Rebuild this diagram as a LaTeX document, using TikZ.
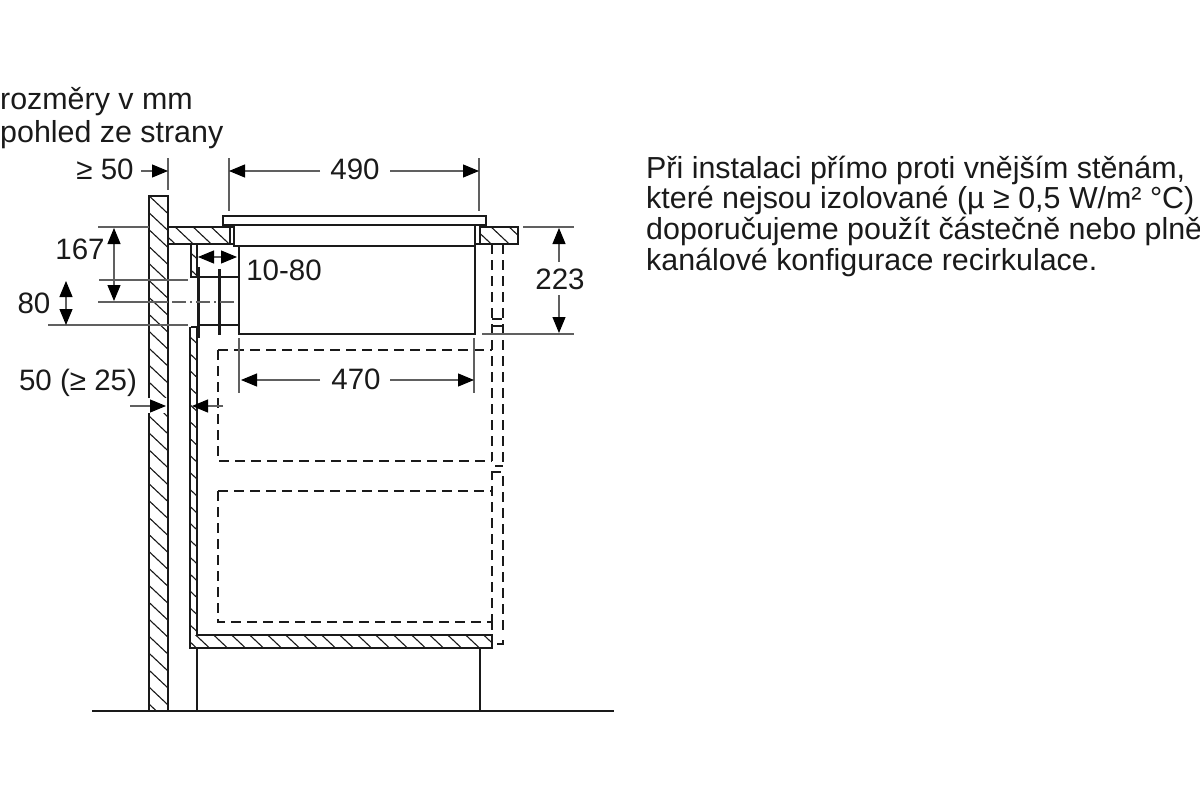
\documentclass[tikz,border=0pt]{standalone}
\usepackage{fontspec}
\setmainfont{Liberation Sans}
\usetikzlibrary{arrows.meta}
\definecolor{ink}{HTML}{1A1A1A}
\definecolor{dimgray}{HTML}{606060}
\newcommand{\hatchbox}[5]{%
  \begin{scope}
    \clip (#1,#2) rectangle (#3,#4);
    \foreach \c in {-800,-782,...,1200}
      \draw[hatchline] (\c+#5,0) -- (\c+#5+850,800);
  \end{scope}}
\tikzset{
  x=1pt,y=-1pt,
  outline/.style={draw=ink,line width=2pt},
  hatchline/.style={draw=ink,line width=1.1pt},
  thin line/.style={draw=dimgray,line width=1.1pt},
  dashline/.style={draw=ink,line width=2pt,dash pattern=on 10pt off 6pt},
  dimline/.style={draw=dimgray,line width=1.1pt},
  dimboth/.style={dimline,{Triangle[length=16pt,width=13pt,color=black]}-{Triangle[length=16pt,width=13pt,color=black]}},
  dimend/.style={dimline,-{Triangle[length=16pt,width=13pt,color=black]}},
  label/.style={inner sep=0pt,text=ink,font=\fontsize{29.5}{34}\selectfont},
  para/.style={inner sep=0pt,text=ink,anchor=base west,font=\fontsize{30.4}{34}\selectfont},
}
\begin{document}
\begin{tikzpicture}
\useasboundingbox (0,0) rectangle (1200,800);
\fill[white] (0,0) rectangle (1200,800);

% hatching
\hatchbox{149}{196}{168}{710}{3}
\hatchbox{168}{227}{230}{244}{-4}
\hatchbox{480}{227}{518}{244}{6}
\hatchbox{191}{244}{197}{277}{2}
\hatchbox{190}{327}{197}{648}{2}
\hatchbox{190}{635}{492}{648}{-3}
\fill[white] (140,398) rectangle (167.2,413);

% wall
\draw[outline] (149,398) -- (149,196) -- (168,196) -- (168,710);
\draw[outline] (149,413) -- (149,710);
% worktop left
\draw[outline] (168,227) -- (230,227) -- (230,244) -- (168,244);
\draw[outline] (230,227) rectangle (234,244);
% worktop right
\draw[outline] (480,227) rectangle (518,244);
\draw[outline] (475,225) -- (475,246);
\draw[outline] (475,244) -- (480,244);
% hob
\draw[outline] (223,225) -- (223,216) -- (486,216) -- (486,225) -- cycle;
\draw[outline] (234,225) -- (234,246) -- (475,246);
\draw[outline] (239,246) -- (239,334) -- (475,334) -- (475,246);
% back panel
\draw[outline] (197,244) -- (197,277) -- (191,277) -- (191,244);
\draw[outline] (191,327) -- (197,327) -- (197,635) -- (492,635) -- (492,648) -- (190,648) -- (190,327);
\draw[outline] (197,648) -- (197,710);
\draw[outline] (480,648) -- (480,710);
% duct
\draw[outline] (197,277) -- (239,277);
\draw[outline] (198,325) -- (239,325);
\draw[draw=ink,line width=3pt] (198,267) -- (198,338);
\draw[draw=ink,line width=3pt] (219,269) -- (219,335);
% floor
\draw[draw=ink,line width=2.5pt] (92,711) -- (614,711);

% dashed outlines
\draw[dashline] (218,350) -- (218,461) -- (492,461);
\draw[dashline] (218,350) -- (492,350);
\draw[dashline] (492,244) -- (492,461);
\draw[dashline] (218,491) -- (218,622) -- (492,622);
\draw[dashline] (218,491) -- (492,491);
\draw[dashline] (503,244) -- (503,466);
\draw[draw=ink,line width=2pt] (495,466) -- (503,466);
\draw[draw=ink,line width=2pt] (492,480) -- (492,472) -- (501,472);
\draw[dashline] (492,486) -- (492,622);
\draw[draw=ink,line width=2pt] (492,622) -- (492,630);
\draw[dashline] (503,476) -- (503,636);
\draw[draw=ink,line width=2pt] (497,644) -- (503,644) -- (503,640);
\draw[draw=ink,line width=1.5pt] (492,319) -- (502,319);
\draw[draw=ink,line width=1.5pt] (492,326) -- (502,326);

% extension lines
\draw[thin line] (168,158) -- (168,190);
\draw[thin line] (229,158) -- (229,211);
\draw[thin line] (479,158) -- (479,211);
\draw[thin line] (98,227) -- (149,227);
\draw[thin line] (99,280) -- (188,280);
\draw[thin line] (98,302) -- (168,302);
\draw[thin line,dash pattern=on 14pt off 4pt on 2pt off 4pt] (172,302) -- (234,302);
\draw[thin line] (48,325) -- (188,325);
\draw[thin line] (523,227) -- (574,227);
\draw[thin line] (482,334) -- (574,334);
\draw[thin line] (239,338) -- (239,393);
\draw[thin line] (474,338) -- (474,393);

% dimension arrows
\coordinate (a50) at (168,171);
\draw[dimend] (141,171) -- (a50);
\draw[dimend] (320,171) -- (229,171);
\draw[dimend] (390,171) -- (479,171);
\draw[dimboth] (114,228) -- (114,301);
\draw[dimboth] (66,281) -- (66,325);
\draw[dimboth] (198,257) -- (237,257);
\draw[dimend] (559,262) -- (559,228);
\draw[dimend] (559,295) -- (559,333);
\draw[dimend] (320,380) -- (241,380);
\draw[dimend] (390,380) -- (474,380);
\draw[dimend] (130,406) -- (166,406);
\draw[dimend] (223,406) -- (192,406);

% labels
\node[label] (t50) at (105,169) {≥ 50};
\node[label] (t490) at (355,169) {490};
\node[label] (t167) at (80,249) {167};
\node[label] (t1080) at (284,270) {10-80};
\node[label] (t80) at (34,303) {80};
\node[label] (t223) at (560,279) {223};
\node[label] (t470) at (356,379) {470};
\node[label] (t5025) at (78,383) {50 (≥ 25)};
\node[para] (h1) at (0,109.5) {rozměry v mm};
\node[para] (h2) at (0,142) {pohled ze strany};
\node[para] (p1) at (646,178) {Při instalaci přímo proti vnějším stěnám,};
\node[para] (p2) at (646,208) {které nejsou izolované (µ ≥ 0,5 W/m² °C)};
\node[para] (p3) at (646,239) {doporučujeme použít částečně nebo plně};
\node[para] (p4) at (646,270) {kanálové konfigurace recirkulace.};
\end{tikzpicture}
\end{document}
